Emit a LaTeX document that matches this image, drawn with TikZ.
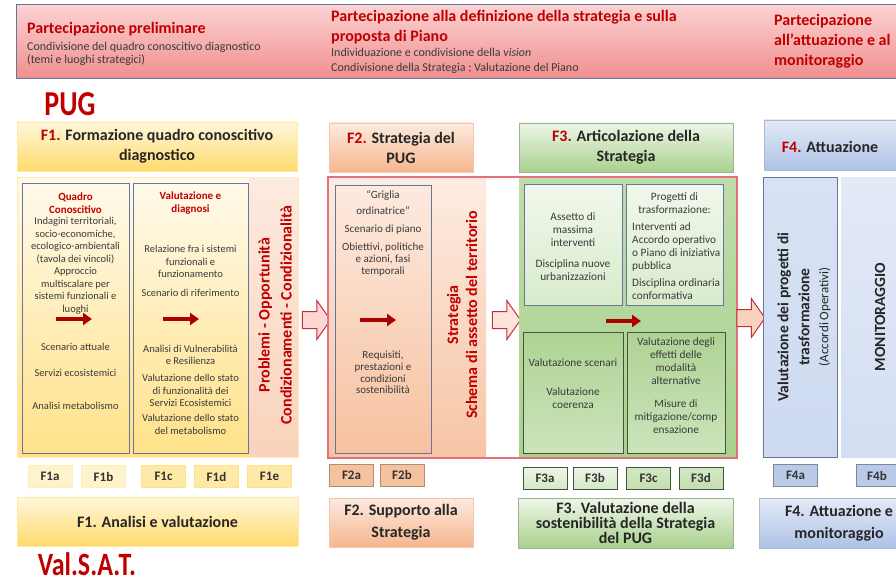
\documentclass[tikz,border=0pt]{standalone}
\usepackage{fontspec}
\setmainfont{Carlito}
\usetikzlibrary{shapes.arrows,arrows.meta}

\definecolor{pugred}{HTML}{C00000}
\definecolor{txt}{HTML}{3A3A3A}
\definecolor{slate}{HTML}{66769A}
\definecolor{yelA}{HTML}{FFF7DC}
\definecolor{yelB}{HTML}{FFDA6C}
\definecolor{peaA}{HTML}{FDEADF}
\definecolor{peaB}{HTML}{F5B68E}
\definecolor{greA}{HTML}{EDF6E7}
\definecolor{greB}{HTML}{A9D18E}
\definecolor{bluA}{HTML}{E3EAF7}
\definecolor{bluB}{HTML}{AEC2E6}
\definecolor{pinA}{HTML}{FCD2D2}
\definecolor{pinB}{HTML}{F08E8E}
\definecolor{redframe}{HTML}{E4707E}
\definecolor{arrowred}{HTML}{C2303C}

\tikzset{
  box/.style={rectangle, inner sep=0pt, line width=0.7pt},
  wh/.style 2 args={minimum width=#1, minimum height=#2},
  yellow box/.style={box, draw=yelB!60, top color=yelA, bottom color=yelB},
  peach box/.style={box, draw=peaB!80, top color=peaA, bottom color=peaB},
  green box/.style={box, draw=greB!70!black!70, top color=greA, bottom color=greB},
  blue box/.style={box, draw=bluB!80!black!70, top color=bluA, bottom color=bluB},
  head text/.style={font=\fontsize{16}{20}\selectfont\bfseries, text=black!85, align=center},
  title text/.style={font=\fontsize{16}{20}\selectfont\bfseries, text=pugred, align=left, inner sep=0pt},
  band text/.style={font=\fontsize{12}{13}\selectfont, text=txt, align=left, inner sep=0pt},
  body text/.style={font=\fontsize{10.5}{12.5}\selectfont, text=txt, align=center, inner sep=0pt},
  small title/.style={body text, font=\fontsize{11}{12.5}\selectfont\bfseries, text=pugred},
  strip text/.style={font=\fontsize{16}{22}\selectfont\bfseries, text=pugred, align=center, inner sep=0pt},
  tag box/.style={box, wh={44}{22}, font=\fontsize{13}{14}\selectfont\bfseries, text=black!80},
  red arrow/.style={line width=4.5pt, draw=pugred!90!black, -{Triangle[length=9pt,width=12pt]}},
  block arrow/.style={single arrow, draw=arrowred, fill=#1, line width=1pt, inner sep=8pt,
    minimum height=28, single arrow head extend=11pt, single arrow tip angle=110}
}

\begin{document}
\begin{tikzpicture}[x=1pt, y=-1pt]
  \useasboundingbox (0,0) rectangle (896,583);

  % partecipazione
  \node[box, wh={889}{74}, draw=slate, line width=1pt, top color=pinA, bottom color=pinB] (band) at (460.5,42) {};
  \node[title text, anchor=west] (p1) at (27,29) {Partecipazione preliminare};
  \node[band text, anchor=west] (p1b) at (27,53.5) {Condivisione del quadro conoscitivo diagnostico\\(temi e luoghi strategici)};
  \node[title text, anchor=west] (p2) at (331,27) {Partecipazione alla definizione della strategia e sulla\\proposta di Piano};
  \node[band text, anchor=west, font=\fontsize{12}{15}\selectfont] (p2b) at (331,61) {Individuazione e condivisione della \textit{vision}\\Condivisione della Strategia ; Valutazione del Piano};
  \node[title text, anchor=west] (p3) at (774,41) {Partecipazione\\all’attuazione e al\\monitoraggio};

  \node[text=pugred, font=\fontsize{28}{30}\selectfont\bfseries] (pug) at (70,104) {\scalebox{1}[1.25]{PUG}};

  % F1
  \node[yellow box, wh={280}{49}, head text] (f1h) at (157,146.5) {{\color{pugred}F1.} Formazione quadro conoscitivo\\diagnostico};
  \node[box, wh={281}{280}, draw=yelB!50, top color=yelA!70!white, bottom color=yelB!80!white] (f1b) at (157.5,317) {};
  \node[box, wh={48}{279}, top color=peaA, bottom color=peaB!60!white] (f1s) at (273.5,317) {};
  \node[box, wh={107}{270}, draw=slate, top color=yelA!60!white, bottom color=yelB!80!white] (qc) at (75.5,318) {};
  \node[box, wh={115}{270}, draw=slate, top color=yelA!60!white, bottom color=yelB!80!white] (vd) at (190.5,318) {};

  \node[small title] (qct) at (75.5,203) {Quadro\\Conoscitivo};
  \node[body text] (qc1) at (75.5,266) {Indagini territoriali,\\socio-economiche,\\ecologico-ambientali\\(tavola dei vincoli)\\Approccio\\multiscalare per\\sistemi funzionali e\\luoghi};
  \node[body text] (qc2) at (75.5,376.5) {Scenario attuale\\[13.5pt]Servizi ecosistemici\\[20.5pt]Analisi metabolismo};
  \node[small title] (vdt) at (190.5,203) {Valutazione e\\diagnosi};
  \node[body text] (vd1) at (190.5,271) {Relazione fra i sistemi\\funzionali e\\funzionamento\\[6.5pt]Scenario di riferimento};
  \node[body text] (vd2) at (190.5,389.5) {Analisi di Vulnerabilità\\e Resilienza\\[4.5pt]Valutazione dello stato\\di funzionalità dei\\Servizi Ecosistemici\\[2.5pt]Valutazione dello stato\\del metabolismo};
  \node[strip text, rotate=90] (pro) at (275,315) {Problemi - Opportunità\\Condizionamenti - Condizionalità};

  \coordinate (qca) at (56,319);
  \coordinate (qcb) at (92,319);
  \coordinate (vda) at (163,319);
  \coordinate (vdb) at (199,319);
  \draw[red arrow] (qca) -- (qcb);
  \draw[red arrow] (vda) -- (vdb);

  \node[block arrow=pinA!80!peaA] (ba1) at (313.5,320) {};

  % F2
  \node[peach box, wh={144}{49}, head text] (f2h) at (401,147.5) {{\color{pugred}F2.} Strategia del\\PUG};
  \node[box, wh={157}{279}, top color=peaA!90!white, bottom color=peaB!80!white] (f2b) at (407.5,317.5) {};
  \node[box, wh={96}{268}, draw=slate, top color=peaA, bottom color=peaB!85!white] (gri) at (383,319) {};
  \node[body text, font=\fontsize{11}{12}\selectfont] (gr1) at (383,233.5) {“Griglia\\[4pt]ordinatrice”\\[6.5pt]Scenario di piano\\[6pt]Obiettivi, politiche\\e azioni, fasi\\temporali};
  \node[body text, font=\fontsize{11}{11.7}\selectfont] (gr2) at (383,372.5) {Requisiti,\\prestazioni e\\condizioni\\sostenibilità};
  \node[strip text, rotate=90, font=\fontsize{16}{19}\selectfont\bfseries] (sch) at (462,315) {Strategia\\Schema di assetto del territorio};
  \coordinate (gra) at (360,320);
  \coordinate (grb) at (396,320);
  \draw[red arrow] (gra) -- (grb);

  \node[block arrow=peaA!80!pinA] (ba2) at (503.5,320) {};

  % F3
  \node[green box, wh={214}{49}, head text] (f3h) at (626,147.5) {{\color{pugred}F3.} Articolazione della\\Strategia};
  \node[box, wh={217}{279}, top color=greB!75!white, bottom color=greB] (f3b) at (627.5,317.5) {};
  \node[box, wh={98}{121}, draw=slate, top color=greA!80!white, bottom color=greA!70!greB] (am) at (573,244.5) {};
  \node[box, wh={97}{121}, draw=slate, top color=greA!80!white, bottom color=greA!70!greB] (pt) at (674.5,244.5) {};
  \node[box, wh={100}{121}, draw=greB!40!black, top color=greB!95!white, bottom color=greB!60!white] (vs) at (573,392.5) {};
  \node[box, wh={98}{121}, draw=greB!40!black, top color=greB!95!white, bottom color=greB!60!white] (ve) at (676,392.5) {};
  \draw[redframe, line width=1.2pt] (328,177) rectangle (737,458);

  \node[body text, font=\fontsize{11.3}{13}\selectfont] (am1) at (573,247) {Assetto di\\massima\\interventi\\[8pt]Disciplina nuove\\urbanizzazioni};
  \node[body text, font=\fontsize{11.3}{13}\selectfont] (pt1) at (674.5,203) {Progetti di\\trasformazione:};
  \node[body text, font=\fontsize{11.3}{13}\selectfont, align=left, anchor=west] (pt2) at (632,261.5) {Interventi ad\\Accordo operativo\\o Piano di iniziativa\\pubblica\\[4pt]Disciplina ordinaria\\conformativa};
  \node[body text, font=\fontsize{11.3}{13}\selectfont] (vs1) at (573,384) {Valutazione scenari\\[16pt]Valutazione\\coerenza};
  \node[body text, font=\fontsize{11.3}{13}\selectfont] (ve1) at (676,386) {Valutazione degli\\effetti delle\\modalità\\alternative\\[10pt]Misure di\\mitigazione/comp\\ensazione};
  \coordinate (ama) at (606,321);
  \coordinate (amb) at (641,321);
  \draw[red arrow] (ama) -- (amb);

  \node[block arrow=peaB!60!white] (ba3) at (748,318) {};

  % F4
  \node[blue box, wh={134}{50}] (f4h) at (831,145) {};
  \node[head text] (f4t) at (830,147) {{\color{pugred}F4.} Attuazione};
  \node[box, wh={74}{280}, draw=slate, top color=bluA!80!bluB, bottom color=bluA!60!bluB] (va) at (800,317) {};
  \node[box, wh={78}{280}, top color=bluA, middle color=bluB!90!black!95, bottom color=bluA!70!bluB] (mo) at (880,317) {};
  \node[rotate=90, align=center, inner sep=0pt, text=black!85, font=\fontsize{15.5}{21}\selectfont\bfseries] (va1) at (804,317) {Valutazione dei progetti di\\trasformazione\\[-2pt]{\fontsize{13}{14}\mdseries\selectfont (Accordi Operativi)}};
  \node[rotate=90, inner sep=0pt, text=black!85, font=\fontsize{15.5}{16}\selectfont\bfseries] (mo1) at (880,317) {MONITORAGGIO};

  % sigle
  \node[tag box, draw=yelB!45, fill=yelA!85!yelB] (f1a) at (50,476.5) {F1a};
  \node[tag box, draw=yelB!45, fill=yelA!85!yelB] (f1bb) at (103.5,476.5) {F1b};
  \node[tag box, draw=yelB!80, fill=yelB!60!white] (f1c) at (163.5,476.5) {F1c};
  \node[tag box, draw=yelB!80, fill=yelB!60!white] (f1d) at (216.5,476.5) {F1d};
  \node[tag box, draw=yelB!80, fill=yelB!60!white] (f1e) at (269.5,476.5) {F1e};
  \node[tag box, draw=peaB!70!black!90, fill=peaB!85!white] (f2a) at (351.5,475) {F2a};
  \node[tag box, draw=peaB!70!black!90, fill=peaB!85!white] (f2bb) at (402,475) {F2b};
  \node[tag box, draw=greB!40!black, top color=greA, bottom color=greB!50!white] (f3a) at (545,478) {F3a};
  \node[tag box, draw=greB!40!black, top color=greA, bottom color=greB!50!white] (f3bb) at (595,478) {F3b};
  \node[tag box, draw=greB!40!black, top color=greA!60!greB, bottom color=greB!70!white] (f3c) at (648.5,478) {F3c};
  \node[tag box, draw=greB!40!black, top color=greA!60!greB, bottom color=greB!70!white] (f3d) at (701,478) {F3d};
  \node[tag box, draw=bluB!70!black, fill=bluB!85!white] (f4a) at (795.5,475.5) {F4a};
  \node[tag box, wh={42}{22}, draw=bluB!70!black, fill=bluB!85!white] (f4b) at (877,475.5) {F4b};

  % Val.S.A.T.
  \node[yellow box, wh={281}{49}, head text] (v1) at (157.5,521.5) {F1. Analisi e valutazione};
  \node[peach box, wh={144}{49}, head text, font=\fontsize{16}{22}\selectfont\bfseries] (v2) at (401,522.5) {F2. Supporto alla\\Strategia};
  \node[green box, wh={215}{50}, head text, font=\fontsize{16}{15}\selectfont\bfseries] (v3) at (625.5,523) {F3. Valutazione della\\sostenibilità della Strategia\\del PUG};
  \node[blue box, wh={160}{50}, head text, font=\fontsize{16}{22}\selectfont\bfseries] (v4) at (839,523) {F4. Attuazione e\\monitoraggio};

  \node[text=pugred, font=\fontsize{26}{28}\selectfont\bfseries] (vas) at (87,564) {\scalebox{1}[1.25]{Val.S.A.T.}};
\end{tikzpicture}
\end{document}
